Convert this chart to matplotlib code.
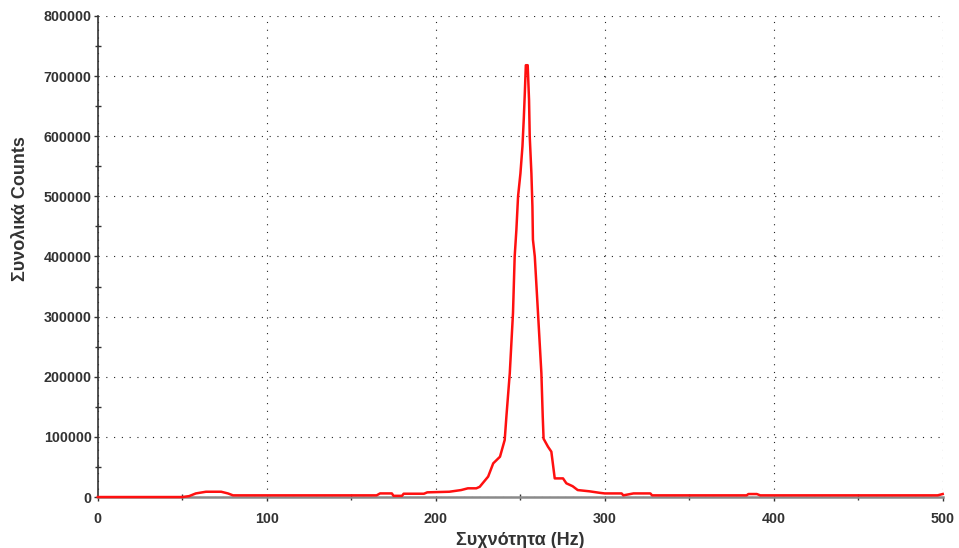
import numpy as np
import matplotlib
matplotlib.use("Agg")
import matplotlib.pyplot as plt
from matplotlib.ticker import MultipleLocator

plt.rcParams['font.family'] = ['Liberation Sans', 'DejaVu Sans']

# -------------------- Data --------------------
freq = [0, 50, 54, 58, 64, 73, 77, 80, 120, 165, 167, 174, 175, 180, 181, 193,
        195, 208, 215, 219, 224, 226, 231, 234, 238, 240.8, 241.8, 243.8, 245.7,
        246.7, 247.7, 248.7, 250.1, 251.3, 252.1, 252.7, 253.3, 254.4, 255.2,
        255.6, 256.6, 257.2, 257.5, 258.6, 260.5, 262.5, 263.3, 263.8, 266.4,
        268.4, 270.4, 275.3, 277.3, 281, 284, 291, 297, 300, 310, 311, 317, 327,
        328, 384, 385, 390, 392, 450, 497, 500]
counts = [0, 0, 1500, 6000, 8800, 8800, 6000, 2800, 2800, 2800, 6000, 6000,
          2000, 2000, 5500, 5500, 7800, 8800, 11600, 14500, 14500, 17000, 34000,
          56000, 67000, 95000, 134000, 206000, 306000, 400000, 444000, 500000,
          538000, 583000, 630000, 672000, 718000, 718000, 660000, 600000, 538000,
          483000, 428000, 400000, 306000, 206000, 134000, 97000, 83700, 75400,
          31000, 31000, 22800, 18000, 11600, 9500, 7000, 6000, 6000, 2800, 6000,
          6000, 2800, 2800, 5000, 5000, 2800, 2800, 2800, 5000]

x_label = 'Συχνότητα (Hz)'
y_label = 'Συνολικά Counts'

# -------------------- Plot --------------------
fig = plt.figure(figsize=(9.59, 5.48), dpi=100)
ax = fig.add_axes([0.102, 0.093, 0.881, 0.878])

ax.plot(freq, counts, color='#ff1010', linewidth=1.8, zorder=3, clip_on=False)

ax.set_xlim(0, 500)
ax.set_ylim(0, 800000)
ax.xaxis.set_major_locator(MultipleLocator(100))
ax.xaxis.set_minor_locator(MultipleLocator(50))
ax.yaxis.set_major_locator(MultipleLocator(100000))
ax.yaxis.set_minor_locator(MultipleLocator(50000))

ax.grid(which='major', color='#222222', linestyle=(0, (1, 6)), linewidth=0.8)

ax.spines['top'].set_visible(False)
ax.spines['right'].set_visible(False)
ax.spines['left'].set_color('#333333')
ax.spines['left'].set_linewidth(1.2)
ax.spines['bottom'].set_color('#8a8a8a')
ax.spines['bottom'].set_linewidth(1.8)

ax.tick_params(which='major', direction='out', length=3, width=1, color='#333333',
               labelsize=10.3, labelcolor='#333333')
ax.tick_params(axis='x', which='major', pad=8)
ax.tick_params(axis='y', which='major', pad=1.5)
ax.tick_params(which='minor', direction='inout', length=5, width=1, color='#333333')
for lab in ax.get_xticklabels() + ax.get_yticklabels():
    lab.set_fontweight('bold')

ax.set_xlabel(x_label, fontsize=13, fontweight='bold', color='#333333', labelpad=4)
ax.set_ylabel(y_label, fontsize=13, fontweight='bold', color='#333333')
ax.yaxis.set_label_coords(-0.081, 0.60)

fig.savefig('out.png', dpi=100)
